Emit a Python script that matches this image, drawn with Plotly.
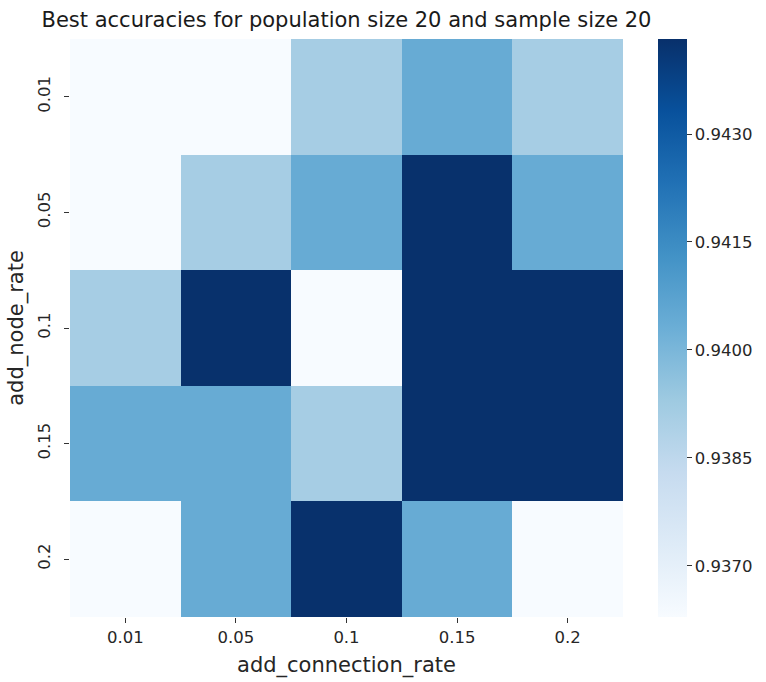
import plotly.graph_objects as go

add_connection_rate = ["0.01", "0.05", "0.1", "0.15", "0.2"]
add_node_rate = ["0.01", "0.05", "0.1", "0.15", "0.2"]

# rows: add_node_rate (top to bottom), columns: add_connection_rate
row_001 = [0.9363, 0.9363, 0.9391, 0.9404, 0.9391]
row_005 = [0.9363, 0.9391, 0.9404, 0.9443, 0.9404]
row_010 = [0.9391, 0.9443, 0.9363, 0.9443, 0.9443]
row_015 = [0.9404, 0.9404, 0.9391, 0.9443, 0.9443]
row_020 = [0.9363, 0.9404, 0.9443, 0.9404, 0.9363]
z = [row_001, row_005, row_010, row_015, row_020]

cbar_ticks = [0.9370, 0.9385, 0.9400, 0.9415, 0.9430]

blues = [
    [0.0, "#f7fbff"], [0.125, "#deebf7"], [0.25, "#c6dbef"], [0.375, "#9ecae1"],
    [0.5, "#6baed6"], [0.625, "#4292c6"], [0.75, "#2171b5"], [0.875, "#08519c"],
    [1.0, "#08306b"],
]

L, R, T, B = 70, 623, 39, 617
W, H = 766, 682

fig = go.Figure(go.Heatmap(
    z=z,
    x=list(range(len(add_connection_rate))),
    y=list(range(len(add_node_rate))),
    colorscale=blues,
    zmin=0.93629, zmax=0.94432,
    xgap=0, ygap=0,
    colorbar=dict(
        x=(658 - L) / (R - L), xanchor="left", xref="paper", xpad=0, ypad=0,
        y=0.5, yanchor="middle", len=1.0, lenmode="fraction",
        thickness=29, outlinewidth=0,
        tickvals=cbar_ticks, ticktext=[f"{v:.4f}" for v in cbar_ticks],
        ticks="outside", ticklen=5, tickcolor="#333",
        tickfont=dict(family="DejaVu Sans", size=16.5, color="#262626"),
    ),
))

fig.update_layout(
    width=W, height=H,
    margin=dict(l=L, r=W - R, t=T, b=H - B, autoexpand=False),
    paper_bgcolor="white", plot_bgcolor="white",
    title=dict(text="Best accuracies for population size 20 and sample size 20",
               x=(L + R) / 2 / W, xanchor="center", y=1 - 20 / H, yanchor="middle",
               font=dict(family="DejaVu Sans", size=21, color="#1a1a1a")),
    font=dict(family="DejaVu Sans", color="#262626"),
)
fig.update_xaxes(
    tickvals=list(range(5)), ticktext=add_connection_rate,
    ticks="outside", ticklen=5, tickcolor="#333",
    tickfont=dict(size=16.5, color="#262626"),
    title=dict(text="add_connection_rate", font=dict(size=21, color="#262626"), standoff=11),
    showgrid=False, zeroline=False, showline=False, range=[-0.5, 4.5],
)
fig.update_yaxes(
    tickvals=list(range(5)), ticktext=add_node_rate,
    ticks="outside", ticklen=5, tickcolor="#333", tickangle=-90,
    ticklabelstandoff=7,
    tickfont=dict(size=16.5, color="#262626"),
    title=dict(text="add_node_rate", font=dict(size=21, color="#262626"), standoff=6),
    showgrid=False, zeroline=False, showline=False, range=[4.5, -0.5],
)

fig.write_html("out.html")
